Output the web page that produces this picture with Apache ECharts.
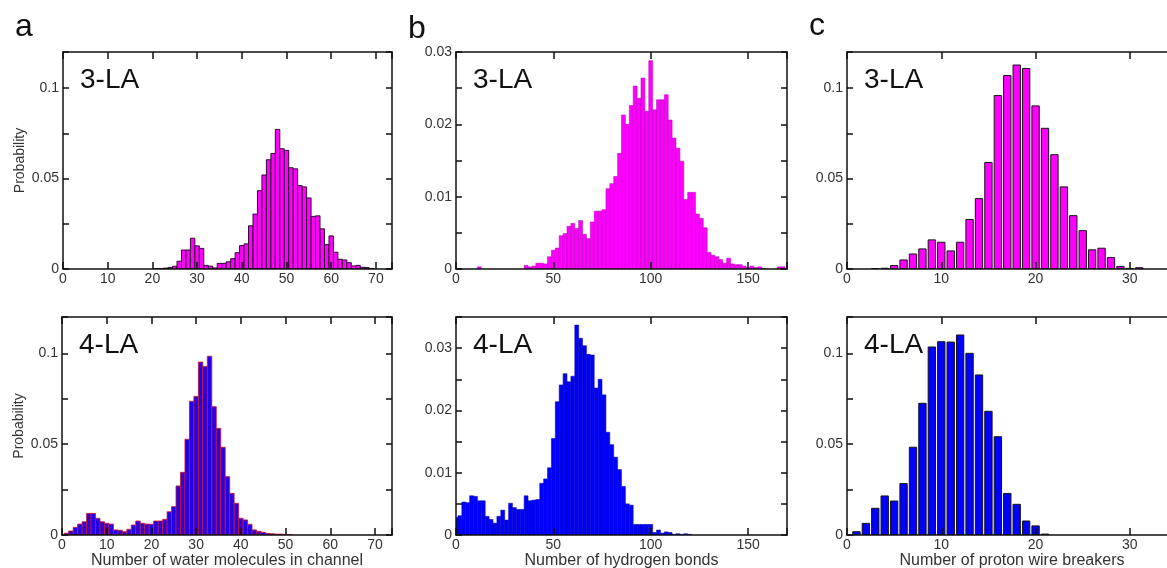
<!DOCTYPE html>
<html><head><meta charset="utf-8">
<script src="https://cdn.jsdelivr.net/npm/echarts/dist/echarts.min.js"></script>
<style>html,body{margin:0;padding:0;background:#fff}#c{width:1167px;height:568px}</style>
</head><body><div id="c"></div>
<script>
// ---- data (bin centres and probabilities) ----
var waterBins3 = [21,22,23,24,25,26,27,28,29,30,31,32,33,34,35,36,37,38,39,40,41,42,43,44,45,46,47,48,49,50,51,52,53,54,55,56,57,58,59,60,61,62,63,64,65,66,67,68,69];
var waterProb3 = [0.0002,0.0003,0.0005,0.0009,0.0015,0.0043,0.0105,0.0105,0.0170,0.0128,0.0114,0.0020,0.0016,0.0006,0.0031,0.0031,0.0040,0.0057,0.0090,0.0130,0.0139,0.0239,0.0304,0.0433,0.0520,0.0604,0.0639,0.0772,0.0665,0.0656,0.0560,0.0554,0.0461,0.0454,0.0393,0.0291,0.0294,0.0222,0.0135,0.0183,0.0093,0.0054,0.0050,0.0035,0.0017,0.0020,0.0010,0.0008,0.0003];

var waterBins4 = [1,2,3,4,5,6,7,8,9,10,11,12,13,14,15,16,17,18,19,20,21,22,23,24,25,26,27,28,29,30,31,32,33,34,35,36,37,38,39,40,41,42,43,44,45,46,47,48,49,50,51];
var waterProb4 = [0.0010,0.0022,0.0042,0.0060,0.0073,0.0119,0.0119,0.0092,0.0073,0.0064,0.0060,0.0028,0.0026,0.0018,0.0031,0.0055,0.0077,0.0064,0.0060,0.0059,0.0077,0.0077,0.0086,0.0128,0.0156,0.0270,0.0345,0.0527,0.0736,0.0763,0.0952,0.0927,0.0984,0.0706,0.0587,0.0483,0.0321,0.0229,0.0174,0.0092,0.0083,0.0059,0.0028,0.0020,0.0015,0.0009,0.0007,0.0005,0.0005,0.0003,0.0002];

var hbBins3 = [12,36,38,40,42,44,46,48,50,52,54,56,58,60,62,64,66,68,70,72,74,76,78,80,82,84,86,88,90,92,94,96,98,100,102,104,106,108,110,112,114,116,118,120,122,124,126,128,130,132,134,136,138,140,142,144,146,148,150,152,154,156,158,166,168];
var hbProb3 = [0.0003,0.0005,0.0003,0.0004,0.0008,0.0008,0.0007,0.0017,0.0026,0.0029,0.0046,0.0049,0.0059,0.0063,0.0056,0.0067,0.0048,0.0042,0.0065,0.0080,0.0080,0.0082,0.0111,0.0118,0.0128,0.0160,0.0213,0.0200,0.0226,0.0253,0.0236,0.0264,0.0218,0.0288,0.0220,0.0234,0.0234,0.0241,0.0206,0.0181,0.0167,0.0149,0.0096,0.0106,0.0106,0.0076,0.0070,0.0057,0.0023,0.0019,0.0017,0.0013,0.0008,0.0015,0.0007,0.0006,0.0006,0.0004,0.0002,0.0004,0.0002,0.0003,0.0001,0.0003,0.0003];

var hbBins4 = [0,2,4,6,8,10,12,14,16,18,20,22,24,26,28,30,32,34,36,38,40,42,44,46,48,50,52,54,56,58,60,62,64,66,68,70,72,74,76,78,80,82,84,86,88,90,92,94,96,98,100,102,104,106,108,110,112,114,116,118,120];
var hbProb4 = [0.0028,0.0031,0.0053,0.0052,0.0063,0.0062,0.0055,0.0055,0.0030,0.0025,0.0019,0.0030,0.0040,0.0024,0.0051,0.0044,0.0041,0.0041,0.0063,0.0055,0.0056,0.0057,0.0083,0.0090,0.0108,0.0155,0.0214,0.0241,0.0259,0.0246,0.0255,0.0337,0.0316,0.0304,0.0290,0.0289,0.0236,0.0250,0.0225,0.0165,0.0145,0.0125,0.0105,0.0078,0.0050,0.0048,0.0017,0.0017,0.0017,0.0017,0.0017,0.0004,0.0008,0.0003,0.0005,0.0004,0.0001,0.0002,0.0001,0.0002,0.0001];

var pwBins3 = [3,4,5,6,7,8,9,10,11,12,13,14,15,16,17,18,19,20,21,22,23,24,25,26,27,28,29,30,31];
var pwProb3 = [0.0002,0.0004,0.0019,0.0050,0.0083,0.0111,0.0161,0.0148,0.0100,0.0148,0.0274,0.0389,0.0589,0.0959,0.1070,0.1128,0.1109,0.0902,0.0778,0.0632,0.0454,0.0295,0.0212,0.0106,0.0115,0.0063,0.0014,0.0003,0.0007];

var pwBins4 = [1,2,3,4,5,6,7,8,9,10,11,12,13,14,15,16,17,18,19,20,21];
var pwProb4 = [0.0018,0.0064,0.0147,0.0215,0.0187,0.0283,0.0483,0.0725,0.1035,0.1064,0.1062,0.1101,0.1000,0.0881,0.0681,0.0541,0.0229,0.0169,0.0077,0.0050,0.0005];

var panelLetters = ['a','b','c'];
var systemLabels = ['3-LA','4-LA'];
var xTitles = ['Number of water molecules in channel','Number of hydrogen bonds','Number of proton wire breakers'];
var yTitle = 'Probability';

// ---- layout / style ----
var FONT = '"Liberation Sans", Arial, Helvetica, sans-serif';
var MAG = '#ff00ff', BLU = '#0000ff';
var panels = [
  {grid:{left:63,top:52,width:329,height:217}, x:waterBins3, y:waterProb3, w:1, xMax:73.6, xMaj:10, yMax:0.12, yStep:0.025, yMaj:0.05, fill:MAG, stroke:'#1a001a', lw:0.9, yName:yTitle, xName:'', label:systemLabels[0]},
  {grid:{left:62,top:317,width:330,height:218}, x:waterBins4, y:waterProb4, w:1, xMax:73.8, xMaj:10, yMax:0.12, yStep:0.025, yMaj:0.05, fill:'#2400e4', stroke:'#d0102e', lw:0.8, yName:yTitle, xName:xTitles[0], label:systemLabels[1]},
  {grid:{left:456,top:52,width:331,height:217}, x:hbBins3, y:hbProb3, w:2, xMax:170, xMaj:50, yMax:0.03, yStep:0.005, yMaj:0.01, fill:MAG, stroke:'#b000b0', lw:0.5, yName:'', xName:'', label:systemLabels[0]},
  {grid:{left:456,top:317,width:331,height:218}, x:hbBins4, y:hbProb4, w:2, xMax:170, xMaj:50, yMax:0.035, yStep:0.005, yMaj:0.01, fill:BLU, stroke:'#0000a8', lw:0.5, yName:'', xName:xTitles[1], label:systemLabels[1]},
  {grid:{left:847,top:52,width:330,height:217}, x:pwBins3, y:pwProb3, w:0.78, xMax:35, xMaj:10, yMax:0.12, yStep:0.025, yMaj:0.05, fill:MAG, stroke:'#151515', lw:1, yName:'', xName:'', label:systemLabels[0]},
  {grid:{left:847,top:317,width:330,height:218}, x:pwBins4, y:pwProb4, w:0.78, xMax:35, xMaj:10, yMax:0.12, yStep:0.025, yMaj:0.05, fill:BLU, stroke:'#151515', lw:1, yName:'', xName:xTitles[2], label:systemLabels[1]}
];

function majorFmt(maj){
  return function(v){
    var r = v / maj;
    if (Math.abs(r - Math.round(r)) > 1e-6) return '';
    return String(+v.toFixed(4));
  };
}
function renderBars(w, fill, stroke, lw){
  return function(params, api){
    var x = api.value(0), v = api.value(1);
    var a = api.coord([x - w/2, v]);
    var b = api.coord([x + w/2, 0]);
    return {type:'rect', shape:{x:a[0], y:a[1], width:b[0]-a[0], height:b[1]-a[1]},
            style:{fill:fill, stroke:stroke, lineWidth:lw}};
  };
}

var lineSt = {color:'#111', width:1.5};
var grids=[], xAxes=[], yAxes=[], series=[], graphics=[];
panels.forEach(function(p, i){
  var g = Object.assign({outerBoundsMode:'none', containLabel:false}, p.grid);
  grids.push(g);
  var xb = {type:'value', gridIndex:i, min:0, max:p.xMax, interval:p.xMaj, z:5,
    axisLine:{show:true, onZero:false, lineStyle:lineSt},
    axisTick:{show:true, inside:true, length:7, lineStyle:lineSt},
    splitLine:{show:false},
    axisLabel:{show:true, margin:3, fontSize:14, color:'#333', fontFamily:FONT, formatter:majorFmt(p.xMaj)},
    name:p.xName, nameLocation:'middle', nameGap:12,
    nameTextStyle:{fontSize:16, color:'#333', fontFamily:FONT}};
  var xt = {type:'value', gridIndex:i, position:'top', min:0, max:p.xMax, interval:p.xMaj, z:5,
    axisLine:{show:true, onZero:false, lineStyle:lineSt},
    axisTick:{show:true, inside:true, length:7, lineStyle:lineSt},
    splitLine:{show:false}, axisLabel:{show:false}};
  var yl = {type:'value', gridIndex:i, min:0, max:p.yMax, interval:p.yStep, z:5,
    axisLine:{show:true, onZero:false, lineStyle:lineSt},
    axisTick:{show:true, inside:true, length:6, lineStyle:lineSt},
    splitLine:{show:false},
    axisLabel:{show:true, margin:4, fontSize:14, color:'#333', fontFamily:FONT, formatter:majorFmt(p.yMaj)},
    name:p.yName, nameLocation:'middle', nameRotate:90, nameGap:36,
    nameTextStyle:{fontSize:14, color:'#333', fontFamily:FONT}};
  var yr = {type:'value', gridIndex:i, position:'right', min:0, max:p.yMax, interval:p.yStep, z:5,
    axisLine:{show:true, onZero:false, lineStyle:lineSt},
    axisTick:{show:true, inside:true, length:6, lineStyle:lineSt},
    splitLine:{show:false}, axisLabel:{show:false}};
  xAxes.push(xb, xt); yAxes.push(yl, yr);
  var data = p.x.map(function(c, k){ return [c, p.y[k]]; });
  series.push({type:'custom', xAxisIndex:2*i, yAxisIndex:2*i, clip:true, z:2,
    renderItem:renderBars(p.w, p.fill, p.stroke, p.lw), encode:{x:0, y:1}, data:data});
  graphics.push({type:'text', x:p.grid.left + 17, y:p.grid.top + 28,
    style:{text:p.label, font:'28px ' + FONT, fill:'#111', textAlign:'left', textVerticalAlign:'middle', verticalAlign:'middle'}, z:10});
});
var letterPos = [[15,27],[408,29],[809,26]];
panelLetters.forEach(function(t, k){
  graphics.push({type:'text', x:letterPos[k][0], y:letterPos[k][1],
    style:{text:t, font:'32px ' + FONT, fill:'#111', textAlign:'left', textVerticalAlign:'middle', verticalAlign:'middle'}, z:10});
});

var chart = echarts.init(document.getElementById('c'), null, {renderer:'canvas'});
chart.setOption({
  animation:false, backgroundColor:'#fff',
  grid:grids, xAxis:xAxes, yAxis:yAxes, series:series, graphic:graphics
});
</script></body></html>
